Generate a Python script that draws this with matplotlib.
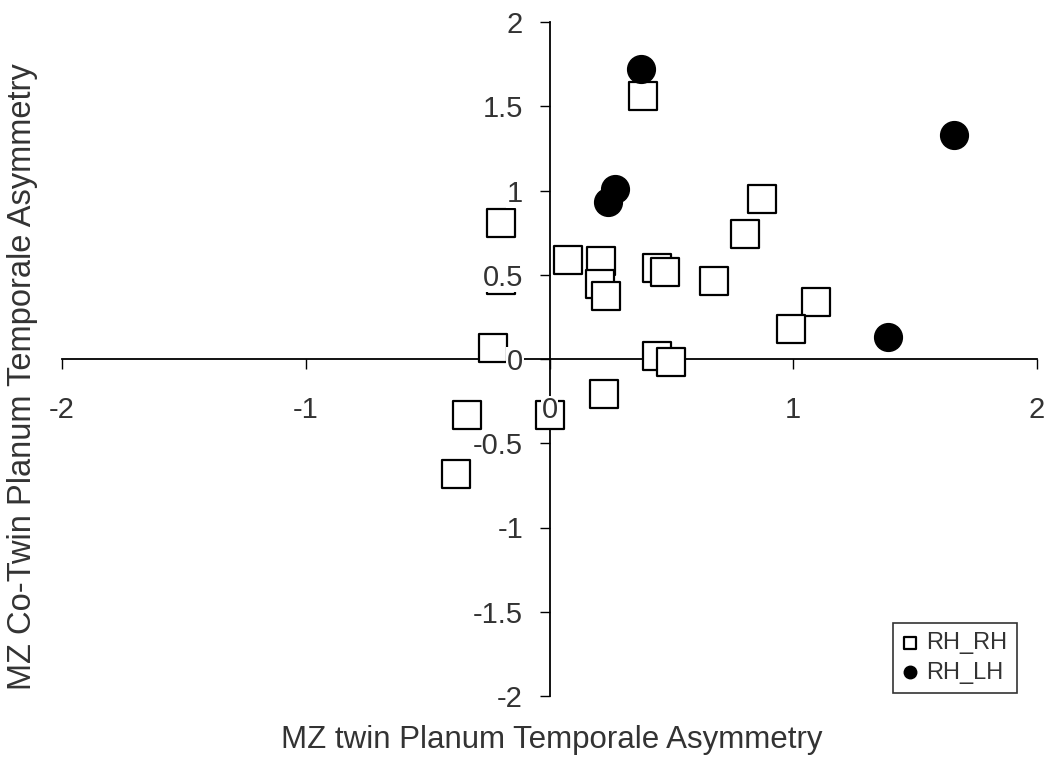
import matplotlib
matplotlib.use("Agg")
import matplotlib.pyplot as plt

plt.rcParams['font.family'] = ['Liberation Sans', 'DejaVu Sans']

# RH_RH pairs (open squares)
rr_x = [0.384, -0.20, 0.074, 0.21, 0.206, 0.232, 0.441, 0.473, 0.676, -0.20,
        -0.23, 0.44, 0.50, 0.87, 0.80, 1.094, 0.99, -0.34, 0.0, 0.225, -0.385]
rr_y = [1.56, 0.81, 0.59, 0.58, 0.445, 0.374, 0.54, 0.516, 0.463, 0.47,
        0.065, 0.02, -0.02, 0.95, 0.74, 0.34, 0.18, -0.33, -0.33, -0.21, -0.68]
# RH_LH pairs (filled circles)
rl_x = [0.376, 0.27, 0.24, 1.39, 1.66]
rl_y = [1.72, 1.01, 0.93, 0.13, 1.33]

ticks = [-2, -1, 0, 1, 2]
yticks = [-2, -1.5, -1, -0.5, 0, 0.5, 1, 1.5, 2]
ytick_labels = ['-2', '-1.5', '-1', '-0.5', '0', '0.5', '1', '1.5', '2']

fig = plt.figure(figsize=(10.53, 7.6), dpi=100)
ax = fig.add_axes([62/1053, 1-696/760, 975/1053, 674/760])
ax.set_xlim(-2, 2)
ax.set_ylim(-2, 2)

ax.scatter(rr_x, rr_y, marker='s', s=380, facecolor='white', edgecolor='black',
           linewidths=1.6, zorder=2, label='RH_RH')
ax.scatter(rl_x, rl_y, marker='o', s=400, facecolor='black', edgecolor='black',
           linewidths=1.0, zorder=2, label='RH_LH')

for side in ['top', 'right']:
    ax.spines[side].set_visible(False)
ax.spines['left'].set_position(('data', 0))
ax.spines['bottom'].set_position(('data', 0))
for side in ['left', 'bottom']:
    ax.spines[side].set_linewidth(1.3)
    ax.spines[side].set_zorder(0.5)

ax.set_xticks(ticks)
ax.set_xticklabels([str(t) for t in ticks])
ax.set_yticks(yticks)
ax.set_yticklabels(ytick_labels)
ax.tick_params(axis='x', direction='out', length=7, width=1, pad=20, labelsize=21, colors='black')
ax.tick_params(axis='y', direction='out', length=7, width=1, pad=12, labelsize=21, colors='black')
for lab in ax.get_xticklabels() + ax.get_yticklabels():
    lab.set_bbox(dict(facecolor='white', edgecolor='none', pad=0.5))
    lab.set_color('#333333')
ax.xaxis.set_zorder(3)
ax.yaxis.set_zorder(3)

fig.text(552/1053, 1-740/760, 'MZ twin Planum Temporale Asymmetry', ha='center', va='center',
         fontsize=22.5, color='#333333')
fig.text(23/1053, 1-377/760, 'MZ Co-Twin Planum Temporale Asymmetry', ha='center', va='center',
         rotation=90, fontsize=23.5, color='#333333')

leg = ax.legend(loc='lower right', bbox_to_anchor=(1017/1053, 1-693/760), bbox_transform=fig.transFigure,
                frameon=True, fancybox=False, edgecolor='black', fontsize=17, markerscale=0.45,
                handlelength=0.6, handletextpad=0.4, borderpad=0.4, labelspacing=0.3, borderaxespad=0)
leg.get_frame().set_linewidth(1.2)
for t in leg.get_texts():
    t.set_color('#333333')

fig.savefig('out.png', dpi=100)
